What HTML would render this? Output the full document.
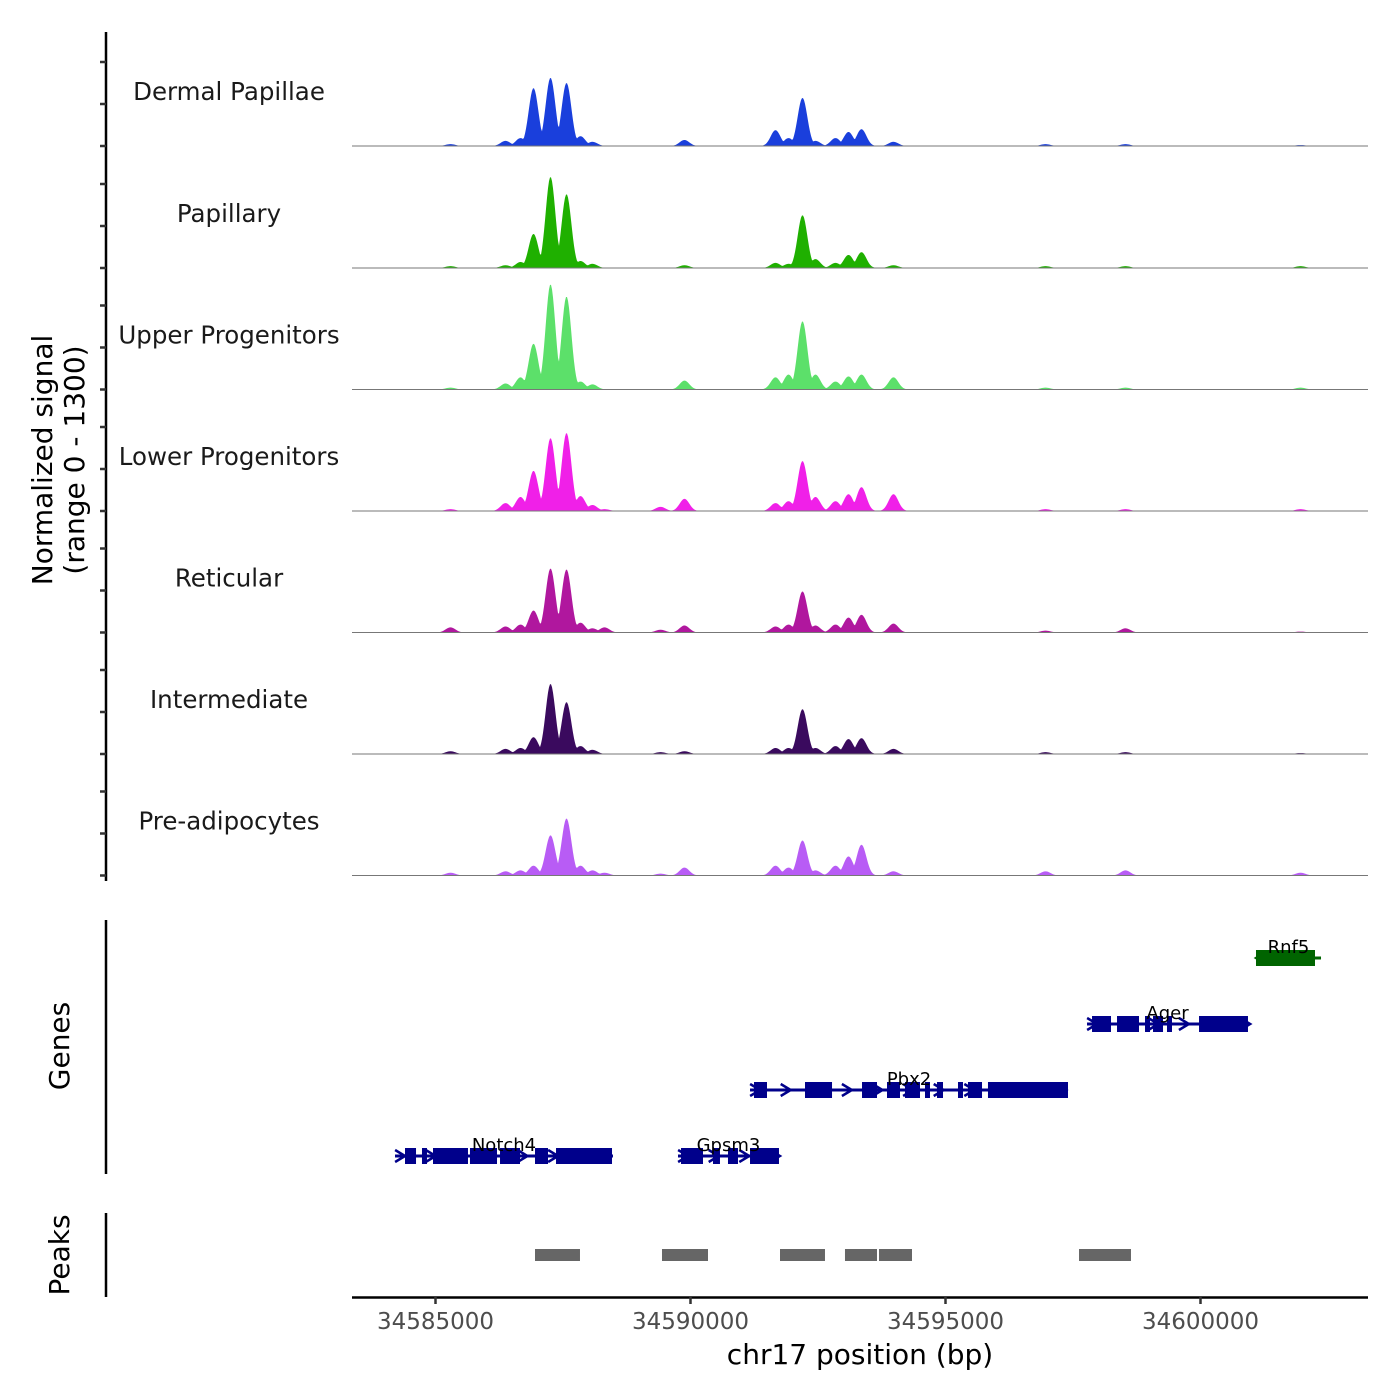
<!DOCTYPE html>
<html><head><meta charset="utf-8">
<style>
html,body{margin:0;padding:0;background:#fff;}
svg{display:block;font-family:"DejaVu Sans","Liberation Sans",sans-serif;}
</style></head>
<body>
<svg id="chart" width="1400" height="1400" viewBox="0 0 1400 1400" xmlns="http://www.w3.org/2000/svg">
<rect width="1400" height="1400" fill="#fff"/>
<g id="tracks"></g>
<g id="genes"></g>
<g id="peaks"></g>
<g id="axes"></g>
<text transform="translate(52,460) rotate(-90)" text-anchor="middle" font-size="28" fill="#000">Normalized signal</text>
<text transform="translate(84,460) rotate(-90)" text-anchor="middle" font-size="28" fill="#000">(range 0 - 1300)</text>
<text transform="translate(69,1046) rotate(-90)" text-anchor="middle" font-size="28" fill="#000">Genes</text>
<text transform="translate(69,1255) rotate(-90)" text-anchor="middle" font-size="28" fill="#000">Peaks</text>
<text x="860" y="1364" text-anchor="middle" font-size="28" fill="#000">chr17 position (bp)</text>
</svg>
<script>
const NS="http://www.w3.org/2000/svg";
const trackNames=["Dermal Papillae","Papillary","Upper Progenitors","Lower Progenitors","Reticular","Intermediate","Pre-adipocytes"];
const trackColors=["#1a3fdc","#1fb000","#5ce06a","#f020e8","#b0179e","#3a0a5e","#b85cf5"];
const peakPositions=[34585294,34586373,34586667,34586922,34587255,34587569,34587843,34588078,34588314,34589412,34589882,34591667,34591922,34592196,34592451,34592843,34593098,34593353,34593980,34596961,34598529,34601961];
const sigDermal=[20,55,85,620,730,675,105,45,0,0,65,170,85,515,55,85,150,180,45,20,20,10];
const sigPapillary=[20,30,65,365,975,790,75,45,0,0,30,55,45,565,95,55,140,170,30,20,20,20];
const sigUpper=[20,65,130,490,1125,995,85,55,0,0,95,130,160,730,160,85,140,160,130,20,20,20];
const sigLower=[20,85,150,430,780,835,160,65,20,45,130,85,105,535,150,105,180,255,180,20,20,20];
const sigReticular=[55,65,85,235,685,675,105,45,55,30,75,65,85,440,75,85,160,190,95,20,45,10];
const sigIntermediate=[30,55,65,180,750,555,85,45,0,20,30,65,65,480,65,85,160,170,55,20,20,10];
const sigPreadipo=[30,45,55,105,430,610,105,55,30,20,85,105,85,375,55,105,205,330,45,45,55,30];
const xTicks=[34585000,34590000,34595000,34600000];
const geneNames=["Notch4","Gpsm3","Pbx2","Ager","Rnf5"];
const geneRows=[0,0,1,2,3];
const geneStrand=[1,1,1,1,-1];
const geneStart=[34584206,34589755,34591167,34597775,34601088];
const geneEnd=[34588480,34591735,34597402,34600931,34602363];
const geneExons=[
 [[34584402,34584618],[34584735,34584833],[34584951,34585637],[34585676,34586206],[34586265,34586657],[34586951,34587206],[34587363,34588461]],
 [[34589814,34590245],[34590441,34590578],[34590735,34590931],[34591167,34591735]],
 [[34591245,34591500],[34592245,34592775],[34593363,34593657],[34593853,34594108],[34594206,34594500],[34594598,34594696],[34594833,34594951],[34595245,34595343],[34595441,34595716],[34595833,34597402]],
 [[34597873,34598245],[34598363,34598794],[34598912,34599010],[34599069,34599265],[34599343,34599441],[34599971,34600931]],
 [[34601088,34602245]]
];
const peakStart=[34586951,34589441,34591755,34593029,34593696,34597618];
const peakEnd=[34587833,34590343,34592637,34593657,34594343,34598637];

const X0=352,X1=1368;
function xs(bp){return 435.5+(bp-34585000)*0.051;}
function el(tag,attrs,parent){const e=document.createElementNS(NS,tag);for(const k in attrs)e.setAttribute(k,attrs[k]);parent.appendChild(e);return e;}
const allSig=[sigDermal,sigPapillary,sigUpper,sigLower,sigReticular,sigIntermediate,sigPreadipo];
const baselines=[146,268,389.5,511,632.5,754,875.5];
const trackH=121.5;
function ys(v,b){return b-v/1300*trackH;}
const tg=document.getElementById('tracks');
const sigma=95;
allSig.forEach((vals,t)=>{
  const b=baselines[t];
  const g=el('g',{},tg);
  
  
  let d='M'+X0+','+b;
  for(let px=X0;px<=X1;px+=1){
    const bp=34585000+(px-435.5)/0.051;
    let v=0;
    for(let i=0;i<peakPositions.length;i++){const dd=(bp-peakPositions[i])/sigma;v=Math.max(v,vals[i]*Math.exp(-0.5*dd*dd));}
    d+=' L'+px+','+ys(v,b).toFixed(2);
  }
  d+=' L'+X1+','+b+' Z';
  const p=el('path',{d:d,fill:trackColors[t]},g);
  
  
  const l=el('line',{x1:X0,x2:X1,y1:b,y2:b,stroke:'#777','stroke-width':1},g);
  
  
  const tx=el('text',{x:229,y:b-46,'text-anchor':'middle','font-size':'24.5',fill:'#1a1a1a'},g);
  tx.textContent=trackNames[t];
  
  
});
// genes
const gg=document.getElementById('genes');
const rowY=[1156,1090,1024,958];
geneNames.forEach((n,i)=>{
  const y=rowY[geneRows[i]];
  const col=geneStrand[i]>0?'#00008b':'#006400';
  const g=el('g',{},gg);
  
  
  el('line',{x1:xs(geneStart[i]),x2:xs(geneEnd[i]),y1:y,y2:y,stroke:col,'stroke-width':3},g);
  for(let bp=geneStart[i]+100;bp<geneEnd[i];bp+=600){
    const x=xs(bp),s=geneStrand[i]*5;
    el('path',{d:`M${x-s},${y-6} L${x+s},${y} L${x-s},${y+6}`,fill:'none',stroke:col,'stroke-width':2.5},g);
  }
  geneExons[i].forEach(ex=>{
    const r=el('rect',{x:xs(ex[0]),y:y-8,width:xs(ex[1])-xs(ex[0]),height:16,fill:col},g);
    
    
  });
  const tx=el('text',{x:xs((geneStart[i]+geneEnd[i])/2),y:y-5,'text-anchor':'middle','font-size':'18',fill:'#000'},g);
  tx.textContent=n;
  
  
});
// peaks
const pg=document.getElementById('peaks');
peakStart.forEach((s,i)=>{
  const r=el('rect',{x:xs(s),y:1249,width:xs(peakEnd[i])-xs(s),height:12,fill:'#666'},pg);
  
  
});
// axes
const ag=document.getElementById('axes');
el('line',{x1:106,x2:106,y1:32,y2:881,stroke:'#000','stroke-width':2.5},ag);
baselines.forEach(b=>{[0,42,84].forEach(o=>{el('line',{x1:100,x2:106,y1:b-o,y2:b-o,stroke:'#333','stroke-width':2.5},ag);});});
el('line',{x1:106,x2:106,y1:920,y2:1174,stroke:'#000','stroke-width':2.5},ag);
el('line',{x1:106,x2:106,y1:1213,y2:1297,stroke:'#000','stroke-width':2.5},ag);
el('line',{x1:X0,x2:X1,y1:1297.5,y2:1297.5,stroke:'#000','stroke-width':2.5},ag);
xTicks.forEach(t=>{
  const x=xs(t);
  el('line',{x1:x,x2:x,y1:1297,y2:1304,stroke:'#333','stroke-width':2.5},ag);
  const tx=el('text',{x:x,y:1329,'text-anchor':'middle','font-size':'23',fill:'#4d4d4d'},ag);
  tx.textContent=t;
  
  
});
</script>
</body></html>
